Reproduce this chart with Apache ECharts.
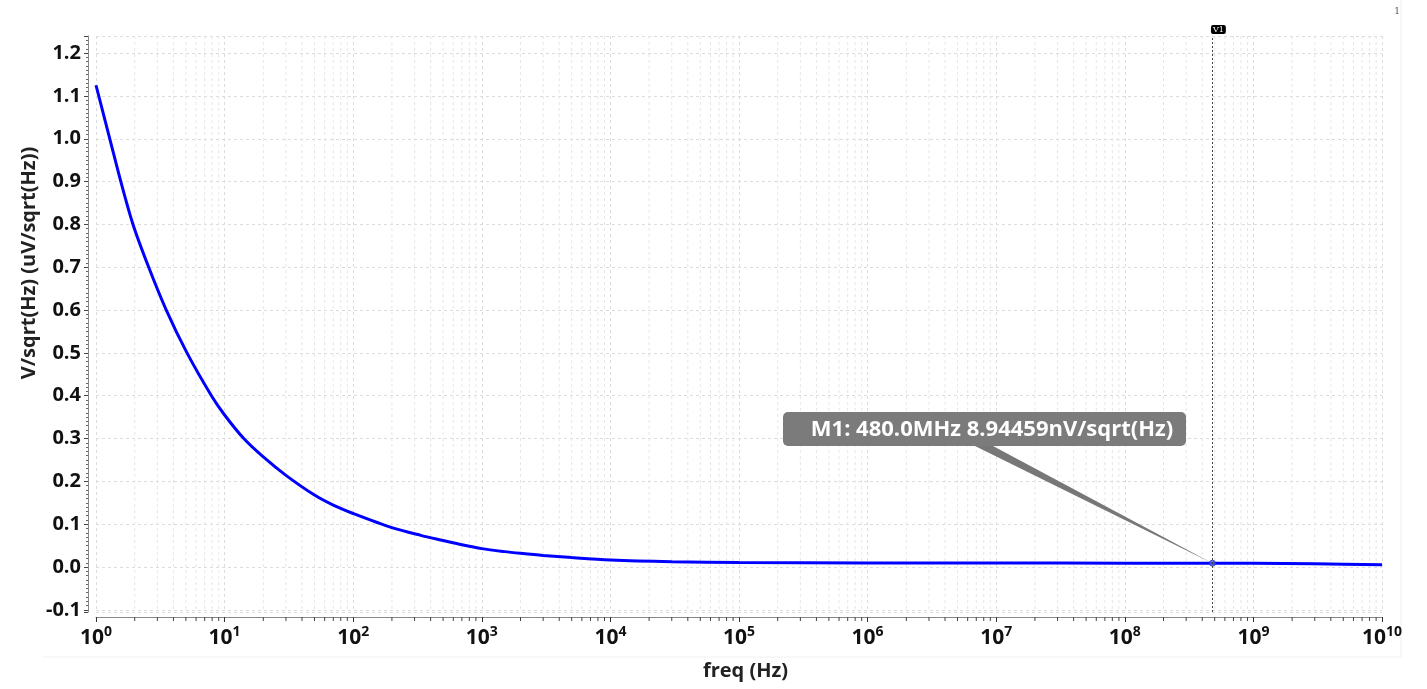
<!DOCTYPE html>
<html>
<head>
<meta charset="utf-8">
<script src="https://cdn.jsdelivr.net/npm/echarts@6/dist/echarts.min.js"></script>
<style>
html,body{margin:0;padding:0;background:#fff;}
#chart{width:1427px;height:689px;}
</style>
</head>
<body>
<div id="chart"></div>
<script>
// Frequencies (Hz) and noise density (uV/sqrt(Hz))
const freqs = [1, 1.28, 1.56, 1.94, 2.57, 3.52, 5.1, 7.9, 10, 14.1, 20, 30, 50, 70.6, 100, 200, 335, 500, 700, 1000, 1500, 2000, 3000, 5000, 1e4, 3e4, 1e5, 1e6, 1e7, 1e8, 4.8e8, 1e9, 3e9, 1e10];
const noise = [1.125, 1.0, 0.9, 0.8, 0.7, 0.6, 0.5, 0.4, 0.355, 0.3, 0.257, 0.214, 0.168, 0.144, 0.125, 0.092, 0.074, 0.062, 0.052, 0.043, 0.036, 0.032, 0.027, 0.022, 0.0165, 0.0124, 0.0103, 0.0095, 0.0092, 0.0091, 0.00894459, 0.0086, 0.0075, 0.0055];

const markerFreq = 4.8e8;
const markerValue = 0.00894459;
const markerTag = 'V1';
const markerText = 'M1: 480.0MHz 8.94459nV/sqrt(Hz)';

const xMin = 1, xMax = 1e10;
const yMin = -0.105, yMax = 1.24;
const xName = 'freq (Hz)';
const yName = 'V/sqrt(Hz) (uV/sqrt(Hz))';
const pageTag = '1';

// minor log grid positions (2..9 x 10^n)
const minorFreqs = [];
for (let e = 0; e < 10; e++) {
  for (let m = 2; m <= 9; m++) minorFreqs.push([m * Math.pow(10, e), 0]);
}

const FONT = '"Open Sans", "Noto Sans", sans-serif';
const chart = echarts.init(document.getElementById('chart'));

const option = {
  backgroundColor: '#fff',
  animation: false,
  grid: { left: 96, right: 45, top: 36, bottom: 77 },
  xAxis: {
    type: 'log',
    logBase: 10,
    min: xMin,
    max: xMax,
    interval: 1,
    offset: 5,
    name: xName,
    nameLocation: 'middle',
    nameGap: 44,
    nameTextStyle: { fontFamily: FONT, fontWeight: 'bold', fontSize: 20, color: '#222', padding: [0, 0, 0, 13] },
    axisLine: { onZero: false, lineStyle: { color: '#888', width: 1 } },
    axisTick: { show: true, length: 5, lineStyle: { color: '#333' } },
    axisLabel: {
      margin: 8,
      fontFamily: FONT,
      fontWeight: 'bold',
      fontSize: 21,
      color: '#111',
      formatter: function (v) {
        return '10{s|' + Math.round(Math.log10(v)) + '}';
      },
      rich: {
        s: { fontFamily: FONT, fontWeight: 'bold', fontSize: 14, color: '#111', verticalAlign: 'top', padding: [0, 0, 12, 0] }
      }
    },
    splitLine: { show: true, lineStyle: { color: '#dcdcdc', type: [3, 3], width: 1 } }
  },
  yAxis: {
    type: 'value',
    min: yMin,
    max: yMax,
    splitNumber: 13,
    offset: 8,
    axisLine: { show: true, lineStyle: { color: '#888', width: 1 } },
    axisTick: { show: true, length: 4, lineStyle: { color: '#444' } },
    minorTick: { show: true, splitNumber: 10, length: 2, lineStyle: { color: '#666' } },
    axisLabel: {
      margin: 7,
      showMinLabel: false,
      showMaxLabel: false,
      fontFamily: FONT,
      fontWeight: 'bold',
      fontSize: 20,
      color: '#111',
      formatter: function (v) { return (Math.round(v * 10) / 10).toFixed(1); }
    },
    splitLine: { show: true, lineStyle: { color: '#dcdcdc', type: [3, 3], width: 1 } }
  },
  series: [
    {
      type: 'custom',
      silent: true,
      clip: false,
      z: 1,
      data: minorFreqs,
      encode: { x: 0, y: 1 },
      renderItem: function (params, api) {
        const cs = params.coordSys;
        const x = api.coord([api.value(0), 0])[0];
        return {
          type: 'group',
          children: [
            { type: 'line', shape: { x1: x, y1: cs.y, x2: x, y2: cs.y + cs.height }, style: { stroke: '#e6e6e6', lineDash: [3, 3], lineWidth: 1 } },
            { type: 'line', shape: { x1: x, y1: cs.y + cs.height + 5, x2: x, y2: cs.y + cs.height + 9 }, style: { stroke: '#444', lineWidth: 1 } }
          ]
        };
      }
    },
    {
      type: 'line',
      name: 'noise',
      z: 3,
      data: freqs.map((f, i) => [f, noise[i]]),
      showSymbol: false,
      smooth: 0.3,
      lineStyle: { color: '#0000ff', width: 3 },
      itemStyle: { color: '#0000ff' },
      markLine: {
        silent: true,
        symbol: 'none',
        lineStyle: { color: '#444', type: [2, 2], width: 1 },
        label: {
          show: true,
          position: 'end',
          formatter: markerTag,
          fontSize: 8,
          fontFamily: 'DejaVu Serif',
          color: '#fff',
          backgroundColor: '#000',
          padding: [1, 2, 0, 2],
          borderRadius: 2,
          distance: 2,
          offset: [6, 0]
        },
        data: [{ xAxis: markerFreq }]
      }
    },
    {
      type: 'scatter',
      name: 'M1',
      z: 4,
      symbolSize: 6,
      itemStyle: { color: '#4b5bd8', borderColor: '#2030c0', borderWidth: 1 },
      data: [[markerFreq, markerValue]]
    }
  ]
};
chart.setOption(option);

const p = chart.convertToPixel({ seriesIndex: 2 }, [markerFreq, markerValue]);
chart.setOption({
  graphic: [
    {
      type: 'text',
      x: 29,
      y: 263,
      rotation: Math.PI / 2,
      style: { text: yName, fill: '#222', font: 'bold 20px ' + FONT, align: 'center', verticalAlign: 'middle' }
    },
    {
      type: 'polygon',
      z: 10,
      shape: { points: [[p[0], p[1]], [975, 446], [993, 446]] },
      style: { fill: '#777' }
    },
    {
      type: 'rect',
      z: 11,
      shape: { x: 783, y: 412, width: 403, height: 34, r: 5 },
      style: { fill: '#7b7b7b' }
    },
    {
      type: 'text',
      z: 12,
      x: 992,
      y: 430,
      style: { text: markerText, fill: '#fff', font: 'bold 22px ' + FONT, align: 'center', verticalAlign: 'middle' }
    },
    {
      type: 'text',
      x: 1397,
      y: 12,
      style: { text: pageTag, fill: '#555', font: '9px "DejaVu Serif"', align: 'center', verticalAlign: 'middle' }
    },
    {
      type: 'polyline',
      shape: { points: [[43, 657], [1401, 657], [1401, 0]] },
      style: { stroke: '#f0f0f0', lineWidth: 1, fill: null }
    }
  ]
});
</script>
</body>
</html>
